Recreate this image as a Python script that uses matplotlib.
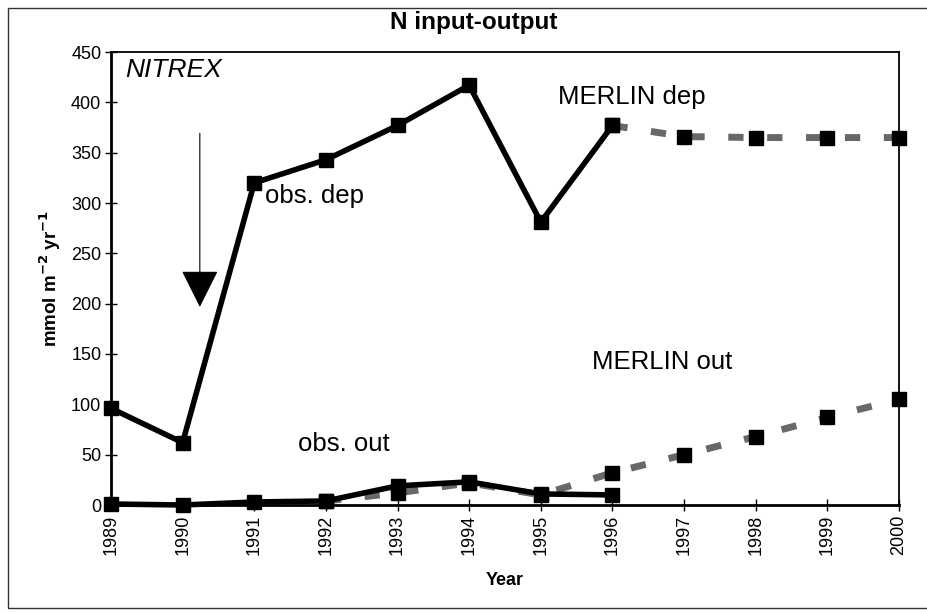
import matplotlib
matplotlib.use("Agg")
import matplotlib.pyplot as plt
from matplotlib.patches import Rectangle

plt.rcParams['font.family'] = ['Liberation Sans', 'DejaVu Sans']

years_obs = [1989, 1990, 1991, 1992, 1993, 1994, 1995, 1996]
obs_dep = [96, 62, 320, 343, 377, 417, 281, 377]
obs_out = [1, 0, 3, 4, 19, 23, 11, 10]

years_merlin_dep = [1996, 1997, 1998, 1999, 2000]
merlin_dep = [377, 366, 365, 365, 365]

years_merlin_out = [1992, 1993, 1994, 1995, 1996, 1997, 1998, 1999, 2000]
merlin_out = [4, 12, 22, 10, 32, 50, 68, 87, 105]

year_ticks = list(range(1989, 2001))
y_ticks = list(range(0, 451, 50))

W, H = 927, 614
fig = plt.figure(figsize=(W / 100, H / 100), dpi=100)
ax = fig.add_axes([111 / W, 1 - 505 / H, (899 - 111) / W, (505 - 52) / H])

# figure frame
fig.patches.append(Rectangle((8 / W, 6 / H), 1.2, 1 - 14 / H, transform=fig.transFigure,
                             fill=False, edgecolor='#333333', linewidth=1.0))

dash_kw = dict(color='#686868', linewidth=5, linestyle=(0, (2.2, 3.4)),
               marker='s', markersize=10, markerfacecolor='black', markeredgecolor='black',
               clip_on=False, zorder=3)
solid_kw = dict(color='black', linewidth=4, marker='s', markersize=10,
                markerfacecolor='black', markeredgecolor='black', clip_on=False, zorder=4)

ax.plot(years_merlin_dep, merlin_dep, **dash_kw)
ax.plot(years_merlin_out, merlin_out, **dash_kw)
ax.plot(years_obs, obs_dep, **solid_kw)
ax.plot(years_obs, obs_out, **solid_kw)

ax.set_xlim(1989, 2000)
ax.set_ylim(0, 450)
ax.set_xticks(year_ticks)
ax.set_xticklabels([str(y) for y in year_ticks], rotation=90, fontsize=13)
ax.set_yticks(y_ticks)
ax.set_yticklabels([str(v) for v in y_ticks], fontsize=13)
ax.tick_params(direction='inout', length=8, width=1, pad=3)

for s in ['left', 'bottom']:
    ax.spines[s].set_linewidth(2)
for s in ['top', 'right']:
    ax.spines[s].set_linewidth(1.3)

ax.set_xlabel('Year', fontsize=13, fontweight='bold', labelpad=12)
ax.set_ylabel(r'mmol m$^{\mathbf{-2}}$ yr$^{\mathbf{-1}}$', fontsize=13.5,
              fontweight='bold', labelpad=6)

fig.text(474 / W, 1 - 22 / H, 'N input-output', ha='center', va='center',
         fontsize=17.5, fontweight='bold')

ax.text(1989.2, 432, 'NITREX', fontsize=19, style='italic', ha='left', va='center')
ax.text(1995.24, 405, 'MERLIN dep', fontsize=18.5, ha='left', va='center')
ax.text(1991.15, 307, 'obs. dep', fontsize=18.5, ha='left', va='center')
ax.text(1995.72, 142, 'MERLIN out', fontsize=18.5, ha='left', va='center')
ax.text(1991.61, 61, 'obs. out', fontsize=18.5, ha='left', va='center')

ax.annotate('', xy=(1990.24, 194), xytext=(1990.24, 372),
            arrowprops=dict(arrowstyle='-|>,head_length=2.4,head_width=1.2',
                            color='black', linewidth=0.8))

fig.savefig('out.png', dpi=100)
